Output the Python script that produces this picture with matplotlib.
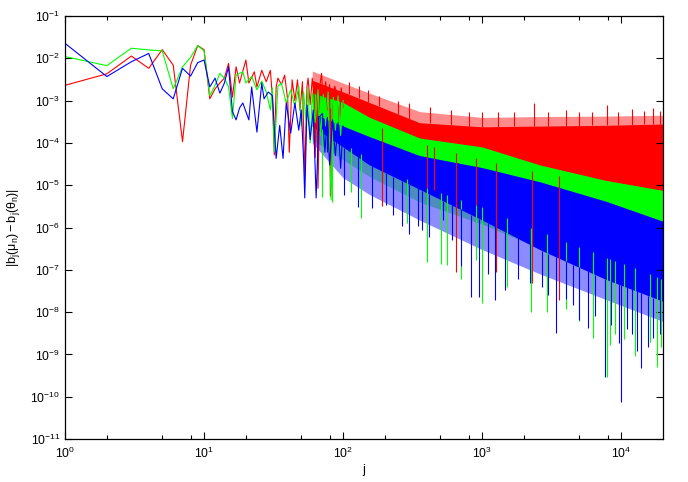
import numpy as np
import matplotlib.pyplot as plt
from matplotlib.ticker import FixedLocator, NullFormatter, LogFormatterMathtext

# sparse part of each curve, read point by point (j, |b_j(u_n)-b_j(theta_n)|)
red_j = [1, 2, 3, 4, 5, 6, 7, 8, 9, 10, 11, 12, 13, 14, 15, 16, 17, 18, 19, 20, 21, 23, 24, 26, 28,
         30, 31, 32, 33, 34, 36, 38, 40, 41, 43, 45, 47, 49, 51, 53, 55, 56, 58, 60, 62, 63, 65, 66,
         68, 70, 72, 75, 77, 80, 81, 84, 87, 91, 94, 97, 100]
red_v = [2.3e-3, 4.3e-3, 1.13e-2, 5.8e-3, 1.6e-2, 6.9e-3, 1.07e-4, 6.9e-3, 2.0e-2, 1.6e-2, 1.1e-3,
         1.9e-3, 2.6e-3, 3.4e-3, 7.6e-3, 1.2e-3, 6.3e-3, 2.6e-3, 5.0e-3, 9.1e-3, 2.6e-3, 4.8e-3,
         2.1e-3, 5.2e-3, 2.8e-3, 5.2e-3, 1.2e-3, 5.2e-5, 2.1e-3, 3.4e-3, 2.4e-3, 4.0e-3, 1.0e-3,
         6e-5, 3.1e-3, 1.0e-3, 3.1e-3, 6e-4, 2.8e-3, 1.7e-5, 2.2e-3, 3.4e-3, 8e-4, 3.4e-3, 1.2e-3,
         4.5e-5, 2.6e-3, 8.5e-6, 2.2e-3, 4.4e-3, 9e-4, 2.8e-3, 6e-4, 2.4e-3, 5.5e-6, 5.5e-4, 2.2e-3,
         1.35e-3, 3e-4, 2.0e-3, 7e-4]

green_j = [1, 2, 3, 4, 5, 6, 7, 8, 9, 10, 11, 12, 13, 14, 15, 16, 17, 19, 20, 22, 24, 26, 28, 30,
           31, 32, 34, 36, 39, 42, 45, 48, 50, 52, 54, 56, 58, 60, 63, 66, 69, 72, 75, 78, 82, 85,
           88, 92, 96, 100]
green_v = [1.1e-2, 6.7e-3, 1.73e-2, 1.58e-2, 1.5e-2, 1.9e-3, 6.3e-3, 1.05e-2, 2.0e-2, 1.5e-2,
           1.3e-3, 2.3e-3, 4.4e-3, 3.4e-3, 2.1e-3, 3.8e-4, 4.0e-3, 4.8e-3, 2.6e-3, 3.7e-3, 1.8e-3,
           2.9e-3, 1.6e-3, 6e-4, 2.0e-3, 6.2e-5, 2.2e-3, 2.6e-3, 8.8e-4, 1.8e-3, 7.2e-4, 2.2e-3,
           2.5e-4, 1.6e-3, 3.5e-4, 2.0e-3, 1e-4, 1.5e-3, 3e-4, 1.8e-3, 1.5e-4, 1.4e-3, 2.5e-4,
           1.6e-3, 4.5e-6, 1.2e-3, 2e-4, 1.3e-3, 1.5e-4, 1.0e-3]

blue_j = [1, 2, 3, 4, 5, 6, 7, 8, 9, 10, 11, 12, 13, 14, 15, 16, 17, 18, 19, 21, 22, 24, 26, 27,
          29, 31, 33, 35, 37, 39, 42, 45, 48, 50, 52, 53, 55, 58, 61, 64, 67, 71, 74, 77, 80, 84,
          88, 92, 96, 100]
blue_v = [2.26e-2, 3.7e-3, 8.3e-3, 1.3e-2, 1.9e-3, 1.1e-3, 5.8e-3, 3.8e-3, 7.9e-3, 9.1e-3, 2.1e-3,
          3.4e-3, 1.5e-3, 2.6e-3, 6.3e-3, 5.5e-4, 3.5e-4, 6.7e-4, 8.8e-4, 3.5e-4, 2.1e-3, 1.8e-4,
          2.6e-3, 1.1e-3, 1.6e-3, 1.3e-3, 4.3e-5, 2.6e-4, 4.3e-5, 8.8e-4, 1.7e-4, 8.8e-4, 2e-4,
          6e-4, 4e-5, 5e-6, 7.9e-4, 1.2e-4, 6e-4, 5e-6, 4e-4, 5e-4, 6e-5, 4e-4, 3e-5, 3.5e-4,
          5e-5, 3e-4, 2.5e-5, 2.5e-4]

# dense part: edges of the solid core and of the lighter fuzzy fringe of each band
band_j = [60, 100, 155, 355, 1000, 2600, 7700, 20000]
red_top = [3e-3, 1.6e-3, 9e-4, 3.0e-4, 2.4e-4, 2.5e-4, 2.6e-4, 2.8e-4]
red_top_f = [5e-3, 2.6e-3, 1.5e-3, 5.5e-4, 4e-4, 4.2e-4, 4.3e-4, 4.5e-4]
red_bot = [1e-3, 5e-4, 3e-4, 1e-4, 4e-5, 2e-5, 1e-5, 5e-6]
green_top = [1.5e-3, 9e-4, 4e-4, 1.3e-4, 8e-5, 3e-5, 1.3e-5, 7.5e-6]
green_bot = [3e-4, 1e-4, 4e-5, 1e-5, 3e-6, 8e-7, 2e-7, 6e-8]
green_bot_f = [1.2e-4, 4e-5, 1.6e-5, 4e-6, 1.2e-6, 3.2e-7, 8e-8, 2.4e-8]
blue_top = [5e-4, 2.5e-4, 1.4e-4, 5e-5, 2.6e-5, 1.2e-5, 4.2e-6, 1.4e-6]
blue_bot = [2.5e-4, 8e-5, 3e-5, 8e-6, 1.5e-6, 3e-7, 6e-8, 1.8e-8]
blue_bot_f = [1e-4, 1.5e-5, 6e-6, 1.5e-6, 3e-7, 8e-8, 2e-8, 6e-9]

# isolated spikes sticking out of the bands
red_up_j = [110, 130, 152, 180, 250, 300, 420, 600, 800, 1000, 1300, 1700, 2350, 3000, 4000,
            5000, 6200, 7900, 9500, 12000, 14500, 17000, 19000]
red_up_v = [2.8e-3, 2.2e-3, 1.8e-3, 1.3e-3, 1.0e-3, 9e-4, 7e-4, 6e-4, 5.5e-4, 5.5e-4, 5.5e-4,
            5.5e-4, 8.7e-4, 5.5e-4, 6e-4, 5.5e-4, 5.5e-4, 7.9e-4, 5.5e-4, 6.5e-4, 5.8e-4, 6.6e-4,
            5.8e-4]
red_dn_j = [80, 191, 400, 450, 650, 900, 1260, 2300, 3600]
red_dn_v = [1.6e-5, 3.2e-6, 6e-7, 7.7e-6, 9e-8, 3e-7, 9e-8, 4.9e-8, 1.9e-8]
green_dn_j = [70, 83, 114, 135, 290, 400, 506, 560, 700, 900, 1000, 1500, 2250, 2930, 4000, 5000,
              6300, 7900, 8300, 9000, 10500, 12500, 16000, 18000, 19500]
green_dn_v = [5.4e-6, 4.1e-6, 6.8e-6, 1.7e-6, 1.3e-6, 1.5e-7, 1.4e-7, 1.3e-7, 6e-8, 1.7e-7,
              1.6e-8, 4e-8, 1e-8, 1e-8, 1.2e-8, 6e-9, 2.5e-9, 3e-10, 1.7e-9, 3e-9, 2.3e-9, 9e-10,
              2e-9, 5.1e-10, 1.5e-9]
blue_dn_j = [77, 102, 127, 162, 203, 230, 267, 300, 343, 372, 418, 520, 610, 700, 830, 950, 1100,
             1230, 1460, 1800, 2200, 2700, 3000, 3400, 4000, 4500, 5000, 5800, 6500, 7600, 8500,
             9600, 10000, 11000, 12000, 13000, 14000, 15700, 17000, 19000]
blue_dn_v = [6.2e-5, 5.8e-6, 3e-6, 2.9e-6, 3.4e-6, 2e-6, 1.1e-6, 7e-7, 1.1e-6, 8.7e-7, 6e-7,
             1.5e-6, 5e-7, 1.2e-7, 2.3e-8, 2.3e-8, 8e-8, 1.9e-8, 3.3e-8, 6e-8, 5e-8, 4e-8, 2.5e-8,
             3.2e-9, 2e-8, 1.5e-8, 6.5e-9, 4.2e-9, 8e-9, 3e-10, 5e-9, 1.9e-9, 7.6e-11, 4e-9,
             3e-9, 1.2e-9, 4.8e-10, 1.5e-9, 2.5e-9, 3e-9]

x_ticks = [1, 10, 100, 1000, 10000]
y_ticks = [1e-11, 1e-10, 1e-9, 1e-8, 1e-7, 1e-6, 1e-5, 1e-4, 1e-3, 1e-2, 1e-1]


def edge_at(sj, bj, bv):
    # band edge at the spike positions (log-log)
    return 10 ** np.interp(np.log10(sj), np.log10(bj), np.log10(bv))


def draw_series(ax, color, lj, lv, top, bot, top_f, bot_f, dn_j, dn_v, up_j=None, up_v=None):
    # light fringe first, then the solid core, the sparse line and the spikes
    ax.fill_between(band_j, bot_f, top_f, color=color, alpha=0.45, lw=0)
    ax.fill_between(band_j, bot, top, color=color, lw=0)
    ax.plot(lj, lv, color=color, lw=0.8)
    ax.vlines(dn_j, dn_v, edge_at(dn_j, band_j, bot), color=color, lw=0.8)
    if up_j is not None:
        ax.vlines(up_j, edge_at(up_j, band_j, top), up_v, color=color, lw=0.8)


plt.rcParams['font.family'] = ['Liberation Sans', 'DejaVu Sans']
plt.rcParams['mathtext.fontset'] = 'custom'
plt.rcParams['mathtext.rm'] = 'Liberation Sans'
plt.rcParams['mathtext.it'] = 'Liberation Sans'
plt.rcParams['mathtext.default'] = 'regular'

fig = plt.figure(figsize=(6.88, 4.82), dpi=100)
ax = fig.add_axes([0.0945, 0.0892, 0.8692, 0.8776])

draw_series(ax, '#ff0000', red_j, red_v, red_top, red_bot, red_top_f, red_bot,
            red_dn_j, red_dn_v, red_up_j, red_up_v)
draw_series(ax, '#00ff00', green_j, green_v, green_top, green_bot, green_top, green_bot_f,
            green_dn_j, green_dn_v)
draw_series(ax, '#0000ff', blue_j, blue_v, blue_top, blue_bot, blue_top, blue_bot_f,
            blue_dn_j, blue_dn_v)

ax.set_xscale('log')
ax.set_yscale('log')
ax.set_xlim(1, 2e4)
ax.set_ylim(1e-11, 1e-1)

# gnuplot style minor ticks at 2, 5 and 8 of every decade
x_minor = [m * d for d in x_ticks for m in (2, 5, 8) if m * d < 2e4]
ax.xaxis.set_major_locator(FixedLocator(x_ticks))
ax.xaxis.set_minor_locator(FixedLocator(x_minor))
ax.xaxis.set_minor_formatter(NullFormatter())
ax.xaxis.set_major_formatter(LogFormatterMathtext())
ax.yaxis.set_major_locator(FixedLocator(y_ticks))
ax.yaxis.set_minor_locator(FixedLocator([]))
ax.yaxis.set_major_formatter(LogFormatterMathtext())

ax.tick_params(which='both', direction='in', top=True, right=True, labelsize=8.7, width=0.8)
ax.tick_params(which='major', length=5)
ax.tick_params(which='minor', length=3)
ax.tick_params(axis='x', pad=5)
for s in ax.spines.values():
    s.set_linewidth(0.9)

ax.set_xlabel('j', fontsize=9)
ax.set_ylabel(r'$|b_j(\mu_n)-b_j(\theta_n)|$', fontsize=9)
ax.xaxis.set_label_coords(0.5, -0.06)
ax.yaxis.set_label_coords(-0.072, 0.5)

fig.savefig('out.png', dpi=100)
